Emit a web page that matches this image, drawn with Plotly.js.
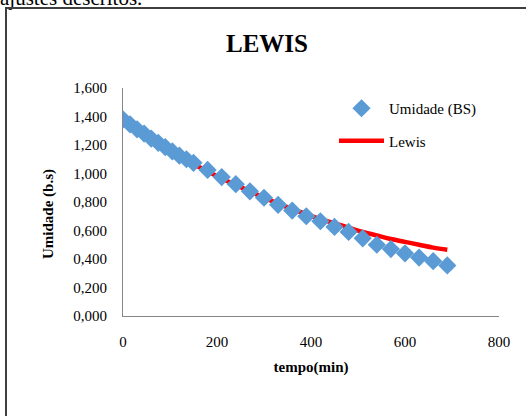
<!DOCTYPE html>
<html>
<head>
<meta charset="utf-8">
<script src="https://cdn.plot.ly/plotly-3.0.1.min.js"></script>
<style>
  html, body { margin: 0; padding: 0; background: #fff; }
  #topText { position: absolute; left: 0px; top: -14px; font-family: "Liberation Serif", serif; font-size: 21px; line-height: 24px; color: #000; white-space: nowrap; }
  #frameTop { position: absolute; left: 5px; top: 7px; width: 521px; height: 2px; background: #3f3f3f; z-index: 5; }
  #frameLeft { position: absolute; left: 5px; top: 7px; width: 2px; height: 409px; background: #3f3f3f; z-index: 5; }
  #chart { position: absolute; left: 0; top: 0; width: 528px; height: 416px; overflow: hidden; }
</style>
</head>
<body>
<div id="topText">ajustes descritos.</div>
<div id="chart"></div>
<div id="frameTop"></div>
<div id="frameLeft"></div>
<script>
// Measured data: drying time (min) and moisture (dry basis)
const tempo = [0, 15, 30, 45, 60, 75, 90, 105, 120, 135, 150, 180, 210, 240, 270, 300, 330, 360, 390, 420, 450, 480, 510, 540, 570, 600, 630, 660, 690];
const umidadeBS = [1.380, 1.345, 1.310, 1.280, 1.245, 1.215, 1.185, 1.155, 1.125, 1.100, 1.075, 1.025, 0.975, 0.925, 0.875, 0.830, 0.780, 0.740, 0.700, 0.665, 0.625, 0.590, 0.545, 0.500, 0.470, 0.440, 0.410, 0.385, 0.355];

// Lewis model curve
const tempoLewis = [0, 30, 60, 90, 120, 150, 180, 210, 240, 270, 300, 330, 360, 390, 420, 450, 480, 510, 540, 570, 600, 630, 660, 690];
const lewis = [1.370, 1.300, 1.235, 1.175, 1.120, 1.065, 1.015, 0.965, 0.920, 0.875, 0.830, 0.790, 0.750, 0.715, 0.680, 0.650, 0.620, 0.590, 0.565, 0.540, 0.520, 0.500, 0.480, 0.465];

const xTicks = [0, 200, 400, 600, 800];
const yTicks = [0, 0.2, 0.4, 0.6, 0.8, 1.0, 1.2, 1.4, 1.6];

const serif = "Liberation Serif";

const traces = [
  {
    x: tempoLewis, y: lewis, name: 'Lewis', type: 'scatter', mode: 'lines',
    line: { color: '#FF0000', width: 4.5, shape: 'spline' },
    legendgroup: 'b', legendrank: 2, hoverinfo: 'skip'
  },
  {
    x: tempo, y: umidadeBS, name: 'Umidade (BS)', type: 'scatter', mode: 'markers',
    marker: { symbol: 'diamond', size: 14, color: '#5B9BD5', line: { width: 0 } },
    legendgroup: 'a', legendrank: 1, hoverinfo: 'skip'
  }
];

const layout = {
  width: 528, height: 416,
  margin: { l: 123, r: 29, t: 88, b: 100 },
  paper_bgcolor: 'rgba(0,0,0,0)', plot_bgcolor: 'rgba(0,0,0,0)',
  separators: ',.',
  font: { family: serif, size: 15, color: '#000' },
  title: {
    text: 'LEWIS', font: { family: serif, size: 25, weight: 'bold', color: '#000' },
    x: 267 / 528, xref: 'container', xanchor: 'center', y: 1 - 43 / 416, yanchor: 'middle', yref: 'container'
  },
  xaxis: {
    range: [0, 800], tickvals: xTicks, tickformat: 'd',
    showline: true, linecolor: '#868686', linewidth: 1,
    showgrid: false, zeroline: false, ticks: '',
    tickfont: { family: serif, size: 15, color: '#000' },
    ticklabelstandoff: 12,
    title: { text: 'tempo(min)', font: { family: serif, size: 15, weight: 'bold', color: '#000' }, standoff: 12 }
  },
  yaxis: {
    range: [0, 1.6], tickvals: yTicks, tickformat: '.3f',
    showline: true, linecolor: '#868686', linewidth: 1,
    showgrid: false, zeroline: false, ticks: '',
    tickfont: { family: serif, size: 15, color: '#000' },
    ticklabelstandoff: 12
  },
  annotations: [
    {
      text: 'Umidade (b.s)', textangle: -90, showarrow: false,
      xref: 'paper', yref: 'paper', x: (48 - 123) / 376, y: (316 - 214) / 228,
      xanchor: 'center', yanchor: 'middle',
      font: { family: serif, size: 15, weight: 'bold', color: '#000' }
    }
  ],
  showlegend: true,
  legend: {
    x: (334 - 123) / 376, y: (316 - 92) / 228, xanchor: 'left', yanchor: 'top',
    bgcolor: 'rgba(0,0,0,0)', borderwidth: 0,
    traceorder: 'grouped', tracegroupgap: 10, itemwidth: 45,
    font: { family: serif, size: 15, color: '#000' }
  }
};

Plotly.newPlot('chart', traces, layout, { displayModeBar: false, staticPlot: true });
</script>
</body>
</html>
